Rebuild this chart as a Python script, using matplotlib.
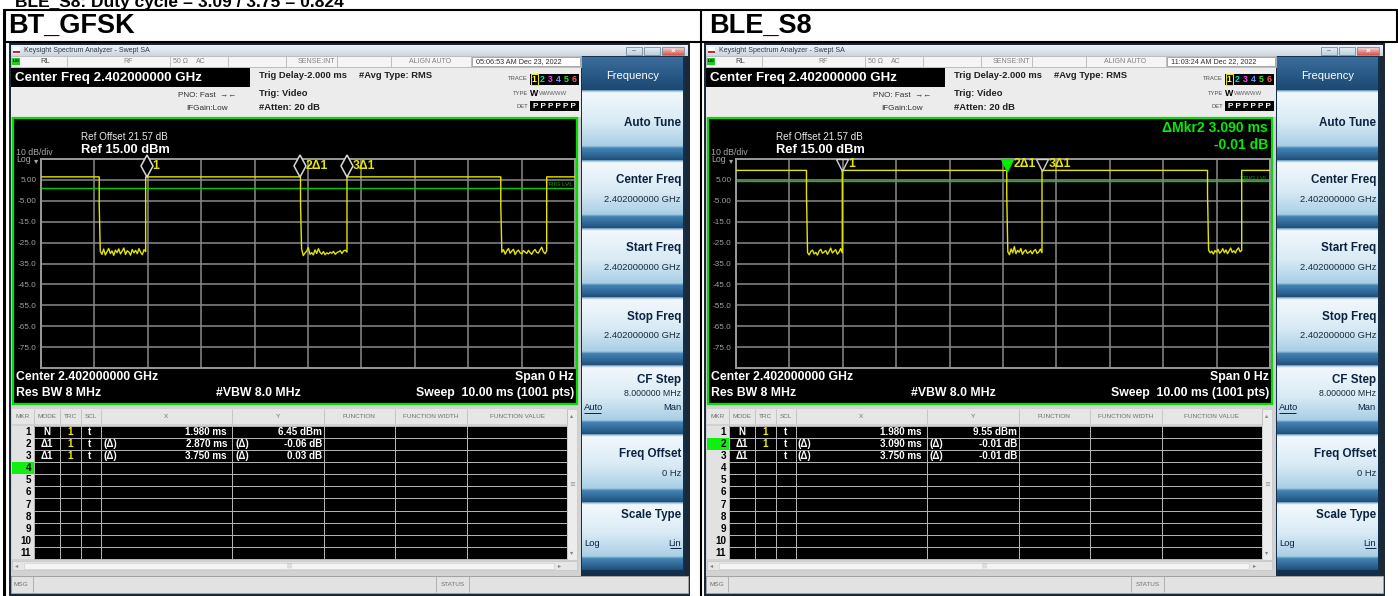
import numpy as np
import matplotlib.pyplot as plt
from matplotlib import font_manager
from matplotlib.patches import Rectangle
from matplotlib.colors import to_rgb
from matplotlib.transforms import ScaledTranslation

W, H = 1398, 596

# ---------------- values ----------------
page_note = 'BLE_S8: Duty cycle = 3.09 / 3.75 = 0.824'
panel_names = ['BT_GFSK', 'BLE_S8']
timestamps = ['05:06:53 AM Dec 23, 2022', '11:03:24 AM Dec 22, 2022']

sweep_ms = 10.0
ref_dbm = 15.0
db_div = 10.0
ytick_dbm = [5, -5, -15, -25, -35, -45, -55, -65, -75]

bt_high_dbm = 6.45
bt_fall_ms = [1.09, 4.86, 8.61]
bt_rise_ms = [1.96, 5.73, 9.47]
bt_knee_dbm = -7.0
bt_trig_dbm = 1.1
bt_noise = [
    [-29.2, -30.6, -28.1, -30.9, -29.4, -27.8, -30.2, -29.0, -31.1, -28.6, -29.8, -28.0, -30.4, -29.1,
     -27.6, -30.7, -28.9, -29.5, -31.0, -28.3, -29.9, -28.7, -30.3, -27.9, -29.6, -30.8, -28.4, -29.3],
    [-28.0, -31.2, -30.0, -29.1, -27.4, -30.6, -29.8, -30.9, -28.5, -30.2, -27.9, -29.7, -30.5, -29.3,
     -30.8, -29.9, -30.4, -29.6, -30.1, -29.2, -30.6, -29.8, -29.4, -28.9, -30.2, -29.0, -28.6, -29.5],
    [-29.6, -28.4, -30.5, -28.9, -27.8, -30.1, -29.0, -28.2, -30.7, -29.3, -28.6, -29.9, -30.4, -28.8,
     -29.5, -30.2, -28.7, -29.8, -30.6, -29.1, -28.3, -29.7, -30.0, -28.5, -27.2, -29.4, -30.3, -28.9],
]

ble_high_dbm = 9.55
ble_fall_ms = [1.32, 5.07, 8.83]
ble_rise_ms = [1.99, 5.73, 9.47]
ble_knee_dbm = -2.0
ble_trig_dbm = 4.3
ble_noise = [
    [-29.8, -30.9, -29.2, -28.6, -30.4, -29.7, -31.0, -29.0, -28.2, -30.1, -29.5,
     -28.8, -30.6, -29.3, -27.6, -30.0, -29.1, -28.4, -30.5, -29.6, -27.9, -29.9],
    [-29.4, -30.8, -28.0, -29.9, -26.9, -30.3, -28.7, -29.6, -27.8, -30.6, -29.2,
     -28.5, -30.1, -29.7, -28.9, -30.4, -29.0, -28.3, -30.2, -29.5, -28.1, -29.8],
    [-28.6, -29.9, -29.1, -30.5, -28.8, -29.6, -28.2, -30.1, -29.3, -27.9, -29.8,
     -28.5, -30.3, -29.0, -27.6, -29.7, -28.9, -30.0, -28.4, -27.5, -29.4, -28.7],
]

# marker table: mode, trc, scl, x-prefix, x, y-prefix, y
bt_rows = [('N', '1', 't', '', '1.980 ms', '', '6.45 dBm'),
           ('Δ1', '1', 't', '(Δ)', '2.870 ms', '(Δ)', '-0.06 dB'),
           ('Δ1', '1', 't', '(Δ)', '3.750 ms', '(Δ)', '0.03 dB')]
ble_rows = [('N', '1', 't', '', '1.980 ms', '', '9.55 dBm'),
            ('Δ1', '1', 't', '(Δ)', '3.090 ms', '(Δ)', '-0.01 dB'),
            ('Δ1', '', 't', '(Δ)', '3.750 ms', '(Δ)', '-0.01 dB')]
bt_marker_ms = [1.980, 2.870, 3.750]
ble_marker_ms = [1.980, 3.090, 3.750]
marker_names = ['1', '2Δ1', '3Δ1']
bt_active_row = 4
ble_active_row = 2
ble_readout = ['ΔMkr2 3.090 ms', '-0.01 dB']

softkeys = ['Auto Tune', 'Center Freq', 'Start Freq', 'Stop Freq', 'CF Step', 'Freq Offset', 'Scale Type']
softkey_values = ['', '2.402000000 GHz', '2.402000000 GHz', '2.402000000 GHz', '8.000000 MHz', '0 Hz', '']
softkey_choices = [None, None, None, None, ('Auto', 'Man'), None, ('Log', 'Lin')]

# ---------------- fonts ----------------
names = {f.name for f in font_manager.fontManager.ttflist}
if 'Liberation Sans Narrow' in names:
    UI, K = 'Liberation Sans Narrow', 1.0
else:
    UI, K = 'Liberation Sans', 0.84
FAM = [UI, 'DejaVu Sans']

fig = plt.figure(figsize=(W / 100, H / 100), dpi=100)
fig.patch.set_facecolor('white')
bg = fig.add_axes([0, 0, 1, 1])
bg.set_axis_off()


def box(x0, y0, x1, y1, fc, ec='none', lw=0, z=1):
    bg.add_patch(Rectangle((x0, y0), x1 - x0, y1 - y0, facecolor=fc, edgecolor=ec, linewidth=lw, zorder=z))


def grad(x0, y0, x1, y1, stops, z=1):
    pos = [s[0] for s in stops]
    cols = np.array([to_rgb(s[1]) for s in stops])
    f = np.linspace(0, 1, 80)
    arr = np.stack([np.interp(f, pos, cols[:, k]) for k in range(3)], axis=-1)[:, None, :]
    bg.imshow(arr, extent=[x0, x1, y1, y0], aspect='auto', interpolation='bilinear', zorder=z)


def txt(x, y, s, size=7, color='black', weight='normal', ha='left', va='center', fam=None, z=5, **kw):
    bg.text(x, y, s, fontsize=size * (K if fam is None else 1), color=color, fontweight=weight,
            ha=ha, va=va, family=fam or FAM, zorder=z, **kw)


def hline(y, x0, x1, color, lw=0.8, z=3):
    bg.plot([x0, x1], [y, y], color=color, lw=lw, zorder=z, solid_capstyle='butt')


def vline(x, y0, y1, color, lw=0.8, z=3):
    bg.plot([x, x], [y0, y1], color=color, lw=lw, zorder=z, solid_capstyle='butt')


def build_trace(high, falls, rises, knee, noise):
    t, v = [0.0], [high]
    for f, r, nz in zip(falls, rises, noise):
        t += [f, f]
        v += [high, knee]
        t += list(np.linspace(f + 0.02, r, len(nz)))
        v += nz
        t += [r]
        v += [high]
    t.append(sweep_ms)
    v.append(high)
    return t, v


KEY_STOPS = [(0, '#6f9cc0'), (0.03, '#f2f8fc'), (0.45, '#d9ebf5'), (0.8, '#a9cee5'),
             (0.835, '#4583b3'), (0.95, '#2b6291'), (1, '#20507a')]


def draw_screen(dx, idx, trace, trig, high, mk_ms, mk_kind, rows, active, readout):
    # window frame and title bar
    box(dx + 9, 43, dx + 690, 597, '#1b2836', z=0.5)
    grad(dx + 11, 45, dx + 688, 56, [(0, '#f1f4f7'), (1, '#c9d5e0')])
    box(dx + 13, 47, dx + 20, 54, 'white', z=2)
    box(dx + 13, 51, dx + 20, 52.5, '#d02020', z=3)
    txt(dx + 24, 50.5, 'Keysight Spectrum Analyzer - Swept SA', 6, '#303848')
    for bx0, bx1, c in [(626, 642, '#b9cfe2'), (644, 660, '#b9cfe2'), (662, 684, '#d9534a')]:
        grad(dx + bx0, 46.5, dx + bx1, 55, [(0, '#f0f4f8'), (1, c)], z=2)
        box(dx + bx0, 46.5, dx + bx1, 55, 'none', '#7a8a9a', 0.6, z=3)
    txt(dx + 634, 51, '–', 6, '#30506f', ha='center')
    txt(dx + 673, 51, '×', 7, 'white', weight='bold', ha='center')

    # info rows
    box(dx + 11, 56, dx + 581, 117, '#ececec')
    box(dx + 11, 56, dx + 581, 66.5, '#f5f5f5', '#b5b5b5', 0.6, z=2)
    for sx in [67, 170, 228, 286, 337, 391, 471]:
        vline(dx + sx, 56, 66.5, '#b5b5b5', 0.6)
    box(dx + 12, 57.5, dx + 20, 65, '#22cc22', z=3)
    txt(dx + 16, 61.5, 'LXI', 3.8, 'black', weight='bold', ha='center', z=4)
    txt(dx + 40, 61.5, 'RL', 6.5, '#404040')
    txt(dx + 123, 61.5, 'RF', 6, '#808080')
    txt(dx + 173, 61.5, '50 Ω', 6, '#808080')
    txt(dx + 196, 61.5, 'AC', 6, '#808080')
    txt(dx + 316, 61.5, 'SENSE:INT', 6, '#808080', ha='center')
    txt(dx + 430, 61.5, 'ALIGN AUTO', 6, '#808080', ha='center')
    box(dx + 472, 57, dx + 580, 66, 'white', '#9a9a9a', 0.6, z=3)
    txt(dx + 476, 61.5, timestamps[idx], 6.2, '#303030', z=4)

    box(dx + 11, 67.5, dx + 250, 87, 'black', z=2)
    txt(dx + 15, 77.5, 'Center Freq 2.402000000 GHz', 11.5, 'white', weight='bold')
    txt(dx + 259, 76, 'Trig Delay-2.000 ms', 8, '#202020', weight='bold')
    txt(dx + 359, 76, '#Avg Type: RMS', 8, '#202020', weight='bold')
    txt(dx + 236, 95.5, 'PNO: Fast  \u2192\u2190', 7, '#303030', ha='right')
    txt(dx + 259, 93, 'Trig: Video', 8, '#202020', weight='bold')
    txt(dx + 228, 109, 'IFGain:Low', 7, '#303030', ha='right')
    txt(dx + 259, 108, '#Atten: 20 dB', 8, '#202020', weight='bold')
    txt(dx + 528, 79, 'TRACE', 5, '#505050', ha='right')
    txt(dx + 528, 93.5, 'TYPE', 5, '#505050', ha='right')
    txt(dx + 528, 106, 'DET', 5, '#505050', ha='right')
    box(dx + 530, 73.5, dx + 579, 85, 'black', z=2)
    box(dx + 530.5, 74, dx + 538, 84.5, 'none', '#e8e800', 0.8, z=3)
    for k, c in enumerate(['#ffff00', '#00e0e0', '#ff40ff', '#7090ff', '#40e040', '#ff6060']):
        txt(dx + 534.3 + k * 8, 79.5, str(k + 1), 7.5, c, weight='bold', ha='center')
    txt(dx + 530, 93.5, 'W', 7.5, 'black', weight='bold')
    txt(dx + 539, 93.5, 'WWWWW', 5.2, '#606060')
    box(dx + 530, 101, dx + 579, 111, 'black', z=2)
    txt(dx + 554.5, 106, 'P P P P P P', 7, 'white', weight='bold', ha='center')

    # plot panel
    box(dx + 11, 117, dx + 581, 404, '#cfcfcf', z=0.8)
    box(dx + 13, 118, dx + 577, 403.5, 'black', '#00e000', 1.6, z=1)
    txt(dx + 81, 137, 'Ref Offset 21.57 dB', 8.5, '#e8e8e8')
    txt(dx + 81, 150, 'Ref 15.00 dBm', 11, 'white', weight='bold')
    txt(dx + 16, 152.5, '10 dB/div', 7.5, '#a8a8a8')
    txt(dx + 16, 160, 'Log', 7.5, '#a8a8a8')
    txt(dx + 34, 161, '▾', 6, '#a8a8a8', fam='DejaVu Sans')
    txt(dx + 16, 377, 'Center 2.402000000 GHz', 10.5, 'white', weight='bold')
    txt(dx + 16, 393, 'Res BW 8 MHz', 10.5, 'white', weight='bold')
    txt(dx + 258, 393, '#VBW 8.0 MHz', 10.5, 'white', weight='bold', ha='center')
    txt(dx + 574, 377, 'Span 0 Hz', 10.5, 'white', weight='bold', ha='right')
    txt(dx + 574, 393, 'Sweep  10.00 ms (1001 pts)', 10.5, 'white', weight='bold', ha='right')
    if readout:
        txt(dx + 573, 128, readout[0], 12, '#00ee00', weight='bold', ha='right')
        txt(dx + 573, 145, readout[1], 12, '#00ee00', weight='bold', ha='right')

    # graticule + trace
    gx0, gx1, gy0, gy1 = dx + 41, dx + 575, 159, 368
    ax = fig.add_axes([gx0 / W, 1 - gy1 / H, (gx1 - gx0) / W, (gy1 - gy0) / H])
    ax.set_facecolor('none')
    ax.set_xlim(0, sweep_ms)
    ax.set_ylim(ref_dbm - 10 * db_div, ref_dbm)
    ax.set_xticks(np.arange(0, sweep_ms + 0.01, 1.0))
    ax.set_yticks(ytick_dbm)
    ax.set_yticklabels([('%.2f' % v) if abs(v) < 10 else ('%.1f' % v) for v in ytick_dbm],
                       family=FAM, fontsize=7 * K, color='#a0a0a0')
    ax.tick_params(length=0, pad=3, labelbottom=False)
    ax.grid(True, color='#8a8a8a', lw=1.1)
    for s in ax.spines.values():
        s.set_color('#9a9a9a')
        s.set_linewidth(1.4)
    ax.axhline(trig, color='#00cc00', lw=1.0, zorder=2)
    ax.text(sweep_ms - 0.05, trig + 0.4, 'TRIG LVL', color='#00aa00', fontsize=5.5 * K, family=FAM,
            ha='right', va='bottom')
    ax.plot(trace[0], trace[1], color='#e4e400', lw=1.0, zorder=3)

    t_ref = mk_ms[0]
    times = [t_ref] + [t_ref + d for d in mk_ms[1:]]
    for k, (t, nm) in enumerate(zip(times, marker_names)):
        if mk_kind == 'diamond':
            tr = ax.transData + ScaledTranslation(0, 0.11, fig.dpi_scale_trans)
            ax.plot([t], [high], marker='d', ms=11, mfc='black', mec='#d8d8d8', mew=1.1,
                    transform=tr, zorder=4, clip_on=False)
            off = (6, 11)
        else:
            tr = ax.transData + ScaledTranslation(0, 0.055, fig.dpi_scale_trans)
            filled = (k == 1)
            ax.plot([t], [high], marker='v', ms=8.5, mfc='#00ee00' if filled else 'none',
                    mec='#00ee00' if filled else '#d0d0d0', mew=1.0, transform=tr, zorder=4, clip_on=False)
            off = (7, 6)
        ax.annotate(nm, (t, high), xytext=off, textcoords='offset pixels', color='#e8e800',
                    fontsize=10.5 * K, fontweight='bold', family=FAM, va='center', ha='left', zorder=5)

    # marker table
    box(dx + 11, 404, dx + 581, 576, '#d2d2d2', z=0.8)
    cols = [12, 33.5, 60, 80.5, 100.6, 231.6, 324, 394.7, 467, 567]
    heads = ['MKR', 'MODE', 'TRC', 'SCL', 'X', 'Y', 'FUNCTION', 'FUNCTION WIDTH', 'FUNCTION VALUE']
    box(dx + 12, 409, dx + 577, 423.5, '#e6e6e6', z=1)
    for c0, c1, hd in zip(cols[:-1], cols[1:], heads):
        txt(dx + (c0 + c1) / 2, 416.5, hd, 5.5, '#707070', ha='center')
        vline(dx + c1, 409, 423.5, '#c0c0c0', 0.6)
    ry0, rh = 425.5, 12.16
    box(dx + 33.5, ry0, dx + 567, ry0 + 11 * rh, 'black', z=1)
    box(dx + 12, ry0, dx + 33.5, ry0 + 11 * rh, '#e2e2e2', z=1)
    for i in range(11):
        yc = ry0 + (i + 0.5) * rh
        if i + 1 == active:
            box(dx + 12, ry0 + i * rh, dx + 33.5, ry0 + (i + 1) * rh, '#11ee11', z=2)
        txt(dx + 31, yc, str(i + 1), 8.5, 'black', weight='bold', ha='right')
        hline(ry0 + (i + 1) * rh, dx + 33.5, dx + 567, '#b8b8b8', 0.7)
    hline(ry0, dx + 33.5, dx + 567, '#b8b8b8', 0.7)
    for c in cols[1:-1]:
        vline(dx + c, ry0, ry0 + 11 * rh, '#b8b8b8', 0.7)
    for i, (mode, trc, scl, xp, xv, yp, yv) in enumerate(rows):
        yc = ry0 + (i + 0.5) * rh
        txt(dx + 46.5, yc, mode, 8.5, 'white', weight='bold', ha='center')
        txt(dx + 70, yc, trc, 8.5, '#f0f000', weight='bold', ha='center')
        txt(dx + 90, yc, scl, 8.5, 'white', weight='bold', ha='center')
        txt(dx + 103, yc, xp, 8.5, 'white', weight='bold')
        txt(dx + 227, yc, xv, 8.5, 'white', weight='bold', ha='right')
        txt(dx + 235, yc, yp, 8.5, 'white', weight='bold')
        txt(dx + 322, yc, yv, 8.5, 'white', weight='bold', ha='right')
    # scrollbars
    box(dx + 567, 409, dx + 577, 560, '#ececec', '#c4c4c4', 0.5, z=2)
    txt(dx + 572, 416, '▴', 4.5, '#808080', ha='center', fam='DejaVu Sans')
    txt(dx + 572, 484, '≡', 5, '#909090', ha='center', fam='DejaVu Sans')
    txt(dx + 572, 553, '▾', 4.5, '#808080', ha='center', fam='DejaVu Sans')
    box(dx + 12, 561, dx + 577, 570, '#e6e6e6', '#c4c4c4', 0.5, z=2)
    box(dx + 24, 562.5, dx + 554, 568.5, '#f4f4f4', '#cfcfcf', 0.5, z=3)
    txt(dx + 17, 565.5, '◂', 4.5, '#808080', ha='center', fam='DejaVu Sans')
    txt(dx + 560, 565.5, '▸', 4.5, '#808080', ha='center', fam='DejaVu Sans')
    txt(dx + 289, 565.5, '|||', 4, '#a0a0a0', ha='center', fam='DejaVu Sans')

    # message bar
    box(dx + 11, 575.5, dx + 688, 592.5, '#e2e2e2', '#a8a8a8', 0.6, z=2)
    for sx in [33, 436, 469]:
        vline(dx + sx, 576, 592, '#a8a8a8', 0.6)
    txt(dx + 14, 584, 'MSG', 5.5, '#707070')
    txt(dx + 452.5, 584, 'STATUS', 5.5, '#707070', ha='center')

    # soft keys
    box(dx + 581, 56, dx + 685, 575.5, '#12304d', z=0.9)
    grad(dx + 582, 57, dx + 683, 90, [(0, '#3a6d9c'), (1, '#1c4873')])
    txt(dx + 632.5, 76, 'Frequency', 9.5, 'white', ha='center')
    tops = [90, 160, 228, 297, 365, 434, 502, 570]
    for k, lab in enumerate(softkeys):
        t0, t1 = tops[k], tops[k + 1]
        grad(dx + 582, t0, dx + 683, t1, KEY_STOPS)
        val, ch = softkey_values[k], softkey_choices[k]
        if k == 0:
            txt(dx + 681, 122.5, lab, 10, '#0c2340', weight='bold', ha='right')
        elif ch and val:
            txt(dx + 681, t0 + 15, lab, 10, '#0c2340', weight='bold', ha='right')
            txt(dx + 681, t0 + 28, val, 7.5, '#1a2a3a', ha='right')
            txt(dx + 584, t0 + 43, ch[0], 8, '#0c2340')
            hline(t0 + 48, dx + 584, dx + 601, '#0c2340', 0.7, z=5)
            txt(dx + 681, t0 + 43, ch[1], 8, '#0c2340', ha='right')
        elif ch:
            txt(dx + 681, t0 + 13, lab, 10, '#0c2340', weight='bold', ha='right')
            txt(dx + 584, t0 + 41, ch[0], 8, '#0c2340')
            txt(dx + 681, t0 + 41, ch[1], 8, '#0c2340', ha='right')
            hline(t0 + 46, dx + 670, dx + 681, '#0c2340', 0.7, z=5)
        else:
            txt(dx + 681, t0 + 20, lab, 10, '#0c2340', weight='bold', ha='right')
            txt(dx + 681, t0 + 39, val, 8, '#1a2a3a', ha='right')


# page note (cut by the top edge, as in the source page) and outer table
bg.text(15, 6.5, page_note, fontsize=12.5, fontweight='bold', family='Liberation Sans',
        va='baseline', ha='left', color='black', zorder=6)
for x0, nm in [(8, panel_names[0]), (709, panel_names[1])]:
    bg.text(x0, 26, nm, fontsize=19.5, fontweight='heavy', family='Liberation Sans',
            va='center', ha='left', color='black', zorder=6)
hline(9.5, 3, 1397.5, 'black', 1.5, z=6)
hline(42, 3, 1397.5, 'black', 1.5, z=6)
vline(4, 9, 596, 'black', 2.2, z=6)
vline(701, 9, 596, 'black', 1.5, z=6)
vline(1396.5, 9, 42.5, 'black', 1.5, z=6)

bt_trace = build_trace(bt_high_dbm, bt_fall_ms, bt_rise_ms, bt_knee_dbm, bt_noise)
ble_trace = build_trace(ble_high_dbm, ble_fall_ms, ble_rise_ms, ble_knee_dbm, ble_noise)

draw_screen(0, 0, bt_trace, bt_trig_dbm, bt_high_dbm, bt_marker_ms, 'diamond', bt_rows, bt_active_row, None)
draw_screen(695, 1, ble_trace, ble_trig_dbm, ble_high_dbm, ble_marker_ms, 'triangle', ble_rows, ble_active_row,
            ble_readout)

bg.set_xlim(0, W)
bg.set_ylim(H, 0)
fig.savefig('out.png', dpi=100, facecolor='white')
